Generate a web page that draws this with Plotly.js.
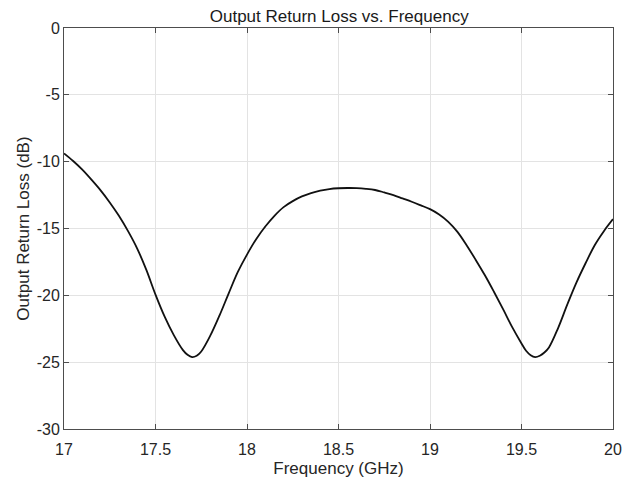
<!DOCTYPE html>
<html>
<head>
<meta charset="utf-8">
<script src="https://cdn.plot.ly/plotly-3.0.1.min.js"></script>
<style>html,body{margin:0;padding:0;background:#fff;}#chart{width:634px;height:485px;}</style>
</head>
<body>
<div id="chart"></div>
<script>
const freqGHz = [17.00,17.05,17.10,17.15,17.20,17.25,17.30,17.35,17.40,17.45,17.50,17.55,17.60,17.65,17.675,17.70,17.725,17.75,17.80,17.85,17.90,17.95,18.00,18.05,18.10,18.15,18.20,18.25,18.30,18.35,18.40,18.45,18.50,18.55,18.60,18.65,18.70,18.75,18.80,18.85,18.90,18.95,19.00,19.05,19.10,19.15,19.20,19.25,19.30,19.35,19.40,19.45,19.50,19.525,19.55,19.575,19.60,19.625,19.65,19.70,19.75,19.80,19.85,19.90,19.95,20.00];
const returnLossDB = [-9.38,-9.95,-10.6,-11.35,-12.15,-13.05,-14.05,-15.2,-16.5,-18.1,-19.95,-21.6,-22.98,-24.1,-24.45,-24.62,-24.52,-24.2,-23.0,-21.5,-19.85,-18.25,-16.95,-15.8,-14.85,-14.05,-13.4,-12.95,-12.6,-12.35,-12.17,-12.05,-11.99,-11.97,-11.98,-12.03,-12.12,-12.3,-12.5,-12.75,-13.0,-13.27,-13.55,-13.95,-14.5,-15.25,-16.25,-17.35,-18.5,-19.75,-21.05,-22.4,-23.6,-24.15,-24.48,-24.62,-24.52,-24.28,-23.9,-22.45,-20.7,-19.05,-17.6,-16.25,-15.2,-14.3];
const xTicks = [17,17.5,18,18.5,19,19.5,20];
const xTickText = ['17','17.5','18','18.5','19','19.5','20'];
const yTicks = [0,-5,-10,-15,-20,-25,-30];
const yTickText = ['0','-5','-10','-15','-20','-25','-30'];

const font = 'Liberation Sans, Arial, sans-serif';
Plotly.newPlot('chart', [{
  x: freqGHz, y: returnLossDB, type: 'scatter', mode: 'lines',
  line: {color: '#111111', width: 1.8, shape: 'spline', smoothing: 1},
  hoverinfo: 'skip'
}], {
  width: 634, height: 485,
  margin: {l: 64, r: 21, t: 28, b: 56},
  paper_bgcolor: '#ffffff', plot_bgcolor: '#ffffff',
  showlegend: false,
  font: {family: font, color: '#262626', size: 16},
  title: {text: 'Output Return Loss vs. Frequency', font: {family: font, size: 17, color: '#1a1a1a'}, x: 0.535, xanchor: 'center', y: 0.966, yanchor: 'middle'},
  xaxis: {
    range: [17, 20], tickvals: xTicks, ticktext: xTickText,
    showgrid: true, gridcolor: '#e3e3e3', gridwidth: 1,
    showline: true, linecolor: '#4d4d4d', linewidth: 1, mirror: 'ticks',
    ticks: 'inside', ticklen: 5, tickcolor: '#4d4d4d',
    zeroline: false, tickfont: {size: 16, color: '#262626'}, ticklabelstandoff: 6,
    title: {text: 'Frequency (GHz)', font: {size: 17, color: '#262626'}, standoff: 4}
  },
  yaxis: {
    range: [-30, 0], tickvals: yTicks, ticktext: yTickText,
    showgrid: true, gridcolor: '#e3e3e3', gridwidth: 1,
    showline: true, linecolor: '#4d4d4d', linewidth: 1, mirror: 'ticks',
    ticks: 'inside', ticklen: 5, tickcolor: '#4d4d4d',
    zeroline: false, tickfont: {size: 16, color: '#262626'},
    title: {text: 'Output Return Loss (dB)', font: {size: 17, color: '#262626'}, standoff: 2}
  }
}, {staticPlot: true, displayModeBar: false});
</script>
</body>
</html>
